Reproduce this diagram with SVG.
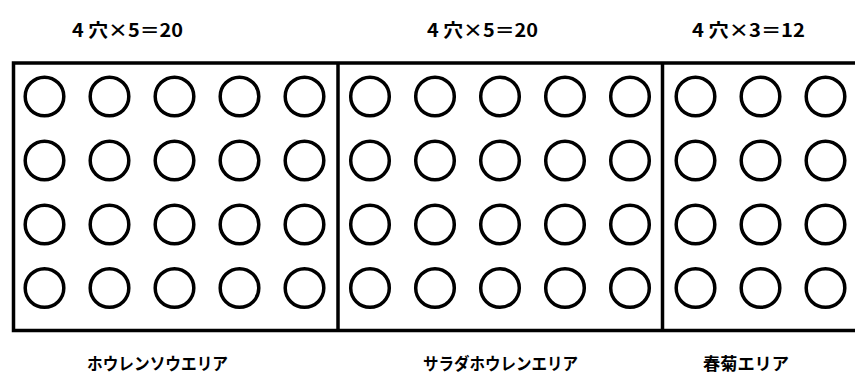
<svg xmlns="http://www.w3.org/2000/svg" width="855" height="374" viewBox="0 0 855 374">
<style>
.hole{fill:none;stroke:#000;stroke-width:3.5}
.frame{fill:none;stroke:#000;stroke-width:3.5}
.lbl{font-family:"Noto Sans CJK JP","Noto Sans",sans-serif;font-weight:bold;font-size:17px;fill:#000}
.top{font-size:18px}
</style>
<defs>
<circle id="h" r="19.3" class="hole"/>
<g id="col">
<use href="#h" y="96.5"/><use href="#h" y="160.5"/><use href="#h" y="224.5"/><use href="#h" y="288"/>
</g>
</defs>
<rect fill="#fff" width="855" height="374"/>
<g id="frame">
<rect class="frame" x="13.5" y="63" width="860" height="267.5"/>
<line class="frame" x1="338" y1="63" x2="338" y2="330.5"/>
<line class="frame" x1="662.5" y1="63" x2="662.5" y2="330.5"/>
</g>
<g id="area-spinach">
<text class="lbl top" x="72" y="36.5" textLength="111" lengthAdjust="spacingAndGlyphs">4 穴×5＝20</text>
<use href="#col" x="44.5"/><use href="#col" x="109.5"/><use href="#col" x="174.5"/><use href="#col" x="239.5"/><use href="#col" x="304.5"/>
<text class="lbl" x="87" y="369.5" textLength="141" lengthAdjust="spacingAndGlyphs">ホウレンソウエリア</text>
</g>
<g id="area-salad-spinach">
<text class="lbl top" x="427" y="36.5" textLength="111" lengthAdjust="spacingAndGlyphs">4 穴×5＝20</text>
<use href="#col" x="370"/><use href="#col" x="435"/><use href="#col" x="500"/><use href="#col" x="565"/><use href="#col" x="630"/>
<text class="lbl" x="423" y="369.5" textLength="155" lengthAdjust="spacingAndGlyphs">サラダホウレンエリア</text>
</g>
<g id="area-shungiku">
<text class="lbl top" x="692" y="36.5" textLength="113" lengthAdjust="spacingAndGlyphs">4 穴×3＝12</text>
<use href="#col" x="695.5"/><use href="#col" x="760.5"/><use href="#col" x="825.5"/>
<text class="lbl" x="703" y="369.5" textLength="86" lengthAdjust="spacingAndGlyphs">春菊エリア</text>
</g>
<g id="connectors"/>
</svg>
